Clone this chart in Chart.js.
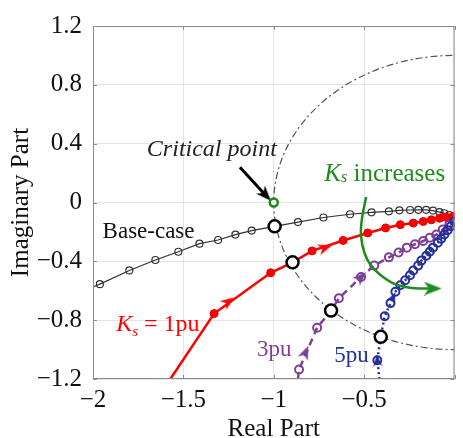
<!DOCTYPE html>
<html>
<head>
<meta charset="utf-8">
<script src="https://cdn.jsdelivr.net/npm/chart.js@4/dist/chart.umd.min.js"></script>
<style>
html, body { margin: 0; padding: 0; background: #fff; }
</style>
</head>
<body>
<canvas id="chart" width="463" height="438"></canvas>
<script>
// tick values
const xTickValues = [-2, -1.5, -1, -0.5, 0];
const yTickValues = [-1.2, -0.8, -0.4, 0, 0.4, 0.8, 1.2];

// base case locus
const baseX = [-2.0, -1.962, -1.799, -1.655, -1.528, -1.411, -1.308, -1.212, -1.122, -0.995, -0.866, -0.725, -0.578, -0.459, -0.363, -0.305, -0.246, -0.2, -0.157, -0.119, -0.083, -0.056, -0.029, 0];
const baseY = [-0.575, -0.555, -0.462, -0.391, -0.335, -0.28, -0.255, -0.218, -0.191, -0.162, -0.133, -0.102, -0.08, -0.067, -0.06, -0.053, -0.051, -0.05, -0.05, -0.055, -0.065, -0.073, -0.085, -0.1];

// Ks = 1pu
const redX = [-1.572, -1.33, -1.017, -0.896, -0.788, -0.616, -0.48, -0.381, -0.3, -0.228, -0.173, -0.128, -0.083, -0.047, -0.01, 0];
const redY = [-1.2, -0.755, -0.478, -0.407, -0.329, -0.258, -0.207, -0.173, -0.151, -0.14, -0.129, -0.118, -0.107, -0.1, -0.096, -0.095];

// Ks = 3pu
const purpleX = [-0.866, -0.86, -0.76, -0.683, -0.64, -0.517, -0.444, -0.363, -0.309, -0.264, -0.219, -0.173, -0.137, -0.1, -0.065, -0.029, 0];
const purpleY = [-1.2, -1.136, -0.851, -0.735, -0.651, -0.507, -0.429, -0.373, -0.34, -0.307, -0.284, -0.262, -0.24, -0.218, -0.184, -0.151, -0.1];

// Ks = 5pu
const blueX = [-0.415, -0.427, -0.408, -0.386, -0.354, -0.327, -0.3, -0.273, -0.246, -0.228, -0.201, -0.183, -0.156, -0.137, -0.119, -0.092, -0.074, -0.056, -0.038, -0.02, -0.002];
const blueY = [-1.2, -1.073, -0.913, -0.773, -0.684, -0.607, -0.562, -0.529, -0.495, -0.462, -0.429, -0.395, -0.362, -0.335, -0.307, -0.273, -0.247, -0.218, -0.189, -0.162, -0.129];

// crossings of the unit circle, critical point
const crossX = [-0.995, -0.896, -0.683, -0.408];
const crossY = [-0.162, -0.407, -0.735, -0.913];
const criticalX = [-1];
const criticalY = [0];

// direction arrows on the loci
const redArrowX = [-1.25, -0.715];
const redArrowY = [-0.673, -0.307];
const purpleArrowX = [-0.824, -0.517];
const purpleArrowY = [-1.018, -0.507];
const blueArrowX = [-0.427, -0.34];
const blueArrowY = [-1.073, -0.645];

// "Ks increases" arc and the critical point pointer
const trendX = [-0.489, -0.513, -0.517, -0.499, -0.462, -0.408, -0.336, -0.246, -0.164, -0.12];
const trendY = [0.038, -0.118, -0.229, -0.34, -0.429, -0.495, -0.551, -0.58, -0.585, -0.585];
const pointerX = [-1.187, -1.045];
const pointerY = [0.24, 0.05];

const SERIF = '"Liberation Serif", "Times New Roman", serif';

function pts(xs, ys) {
	return xs.map(function(x, i) { return {x: x, y: ys[i]}; });
}

function onEdge(ctx) {
	const p = ctx.raw;
	if (!p) return false;
	return p.x <= -2 || p.x >= 0 || p.y <= -1.2;
}

// arrowhead image pointing up; chart.js rotates it clockwise
function arrowHead(color, w, h) {
	const c = document.createElement('canvas');
	c.width = w;
	c.height = h;
	const g = c.getContext('2d');
	g.fillStyle = color;
	g.beginPath();
	g.moveTo(w / 2, 0);
	g.lineTo(w, h);
	g.lineTo(w / 2, h * 0.72);
	g.lineTo(0, h);
	g.closePath();
	g.fill();
	return c;
}

function arrowSet(xs, ys, color, rot, w, h) {
	return {
		type: 'scatter', data: pts(xs, ys), showLine: false,
		pointStyle: arrowHead(color, w, h), pointRotation: rot, pointRadius: 6, clip: 0
	};
}

const frame = {
	id: 'frame',
	beforeDatasetsDraw(chart) {
		const ctx = chart.ctx;
		const a = chart.chartArea;
		const xs = chart.scales.x, ys = chart.scales.y;
		// unit circle
		ctx.save();
		ctx.beginPath();
		ctx.rect(a.left, a.top, a.right - a.left, a.bottom - a.top);
		ctx.clip();
		const cx = xs.getPixelForValue(0), cy = ys.getPixelForValue(0);
		const rx = cx - xs.getPixelForValue(-1), ry = ys.getPixelForValue(-1) - cy;
		ctx.beginPath();
		ctx.ellipse(cx, cy, rx, ry, 0, 0, Math.PI * 2);
		ctx.strokeStyle = '#555';
		ctx.lineWidth = 1.2;
		ctx.setLineDash([7, 3, 2, 3]);
		ctx.stroke();
		ctx.restore();
	},
	afterDatasetsDraw(chart) {
		const ctx = chart.ctx;
		const a = chart.chartArea;
		const xs = chart.scales.x, ys = chart.scales.y;
		ctx.save();
		ctx.strokeStyle = '#8a8a8a';
		ctx.lineWidth = 1;
		ctx.strokeRect(a.left + 0.5, a.top + 0.5, a.right - a.left - 1, a.bottom - a.top - 1);
		ctx.beginPath();
		xTickValues.forEach(function(v) {
			const px = Math.round(xs.getPixelForValue(v)) + 0.5;
			ctx.moveTo(px, a.top); ctx.lineTo(px, a.top + 4);
			ctx.moveTo(px, a.bottom); ctx.lineTo(px, a.bottom - 4);
		});
		yTickValues.forEach(function(v) {
			const py = Math.round(ys.getPixelForValue(v)) + 0.5;
			ctx.moveTo(a.left, py); ctx.lineTo(a.left + 4, py);
			ctx.moveTo(a.right, py); ctx.lineTo(a.right - 4, py);
		});
		ctx.stroke();

		// labels
		ctx.textBaseline = 'alphabetic';
		ctx.textAlign = 'left';
		function at(x, y) { return [xs.getPixelForValue(x), ys.getPixelForValue(y)]; }
		function plain(text, x, y, color, font) {
			const p = at(x, y);
			ctx.font = font;
			ctx.fillStyle = color;
			ctx.fillText(text, p[0], p[1]);
		}
		function ks(x, y, color, rest, size, drop) {
			const p = at(x, y);
			ctx.fillStyle = color;
			ctx.font = 'italic ' + size + 'px ' + SERIF;
			ctx.fillText('K', p[0], p[1]);
			let w = ctx.measureText('K').width;
			ctx.font = 'italic ' + Math.round(size * 0.62) + 'px ' + SERIF;
			ctx.fillText('s', p[0] + w, p[1] + drop);
			w += ctx.measureText('s').width;
			ctx.font = size + 'px ' + SERIF;
			ctx.fillText(rest, p[0] + w, p[1]);
		}
		plain('Critical point', -1.702, 0.313, '#222', 'italic 24px ' + SERIF);
		plain('Base-case', -1.947, -0.24, '#111', '23px ' + SERIF);
		ks(-0.72, 0.149, '#1e8c1e', ' increases', 25, 1);
		ks(-1.872, -0.873, '#ff0000', ' = 1pu', 24, 5);
		plain('3pu', -1.093, -1.047, '#7f3f98', '23px ' + SERIF);
		plain('5pu', -0.665, -1.085, '#24309a', '23px ' + SERIF);
		ctx.restore();
	}
};

const datasets = [
	{
		type: 'scatter', data: pts(crossX, crossY), showLine: false,
		pointRadius: 6, pointBorderWidth: 2.5, pointBorderColor: '#000', pointBackgroundColor: '#fff'
	},
	{
		type: 'scatter', data: pts(criticalX, criticalY), showLine: false,
		pointRadius: 4, pointBorderWidth: 2.5, pointBorderColor: '#1a8a1a', pointBackgroundColor: '#fff'
	},
	arrowSet(redArrowX, redArrowY, '#ff0000', [54, 72], 11, 14),
	arrowSet(purpleArrowX, purpleArrowY, '#7f3f98', [23, 47], 11, 14),
	arrowSet(blueArrowX, blueArrowY, '#24309a', [-5, 25], 9, 12),
	arrowSet([trendX[trendX.length - 1]], [trendY[trendY.length - 1]], '#1e8c1e', [90], 14, 18),
	arrowSet([pointerX[1]], [pointerY[1]], '#000', [137], 12, 15),
	{
		data: pts(trendX, trendY), borderColor: '#1e8c1e', borderWidth: 2.5,
		tension: 0.4, pointRadius: 0, clip: 0
	},
	{
		data: pts(pointerX, pointerY), borderColor: '#000', borderWidth: 3,
		pointRadius: 0, clip: 0
	},
	{
		data: pts(blueX, blueY), borderColor: '#24309a', borderWidth: 2.5, borderDash: [2, 3],
		pointRadius: function(c) { return onEdge(c) ? 0 : 4; },
		pointBorderWidth: 2, pointBackgroundColor: 'rgba(255,255,255,0)', pointBorderColor: '#24309a', clip: 0
	},
	{
		data: pts(purpleX, purpleY), borderColor: '#7f3f98', borderWidth: 2.5, borderDash: [7, 5],
		pointRadius: function(c) { return onEdge(c) ? 0 : 4; },
		pointBorderWidth: 2, pointBackgroundColor: 'rgba(255,255,255,0)', pointBorderColor: '#7f3f98', clip: 0
	},
	{
		data: pts(redX, redY), borderColor: '#ff0000', borderWidth: 2.5,
		pointRadius: function(c) { return onEdge(c) ? 0 : 4; },
		pointBorderWidth: 1, pointBackgroundColor: '#ff0000', pointBorderColor: '#e00000', clip: 0
	},
	{
		data: pts(baseX, baseY), borderColor: '#333', borderWidth: 1.2,
		pointRadius: function(c) { return onEdge(c) ? 0 : 3.5; },
		pointBorderWidth: 1.2, pointBackgroundColor: 'rgba(255,255,255,0)', pointBorderColor: '#333', clip: 0
	}
];

new Chart(document.getElementById('chart').getContext('2d'), {
	type: 'line',
	data: {datasets: datasets},
	plugins: [frame],
	options: {
		responsive: false,
		animation: false,
		layout: {padding: {top: 19, right: 1, left: 0, bottom: 0}},
		plugins: {legend: {display: false}, tooltip: {enabled: false}},
		scales: {
			x: {
				type: 'linear', min: -2, max: 0,
				afterBuildTicks: function(s) { s.ticks = xTickValues.map(function(v) { return {value: v}; }); },
				afterFit: function(s) { s.height = 59; },
				grid: {color: '#e4e4e4', drawTicks: false},
				border: {display: false},
				ticks: {
					padding: 6, color: '#111', font: {family: SERIF, size: 25},
					maxRotation: 0, autoSkip: false,
					callback: function(v) { return v === 0 ? '' : String(v).replace('-', '\u2212'); }
				},
				title: {display: true, text: 'Real Part', color: '#111', font: {family: SERIF, size: 25, lineHeight: 0.7}, padding: 0}
			},
			y: {
				type: 'linear', min: -1.2, max: 1.2,
				afterBuildTicks: function(s) { s.ticks = yTickValues.map(function(v) { return {value: v}; }); },
				afterFit: function(s) { s.width = 93; },
				grid: {color: '#e4e4e4', drawTicks: false},
				border: {display: false},
				ticks: {
					padding: 11, color: '#111', font: {family: SERIF, size: 25}, autoSkip: false,
					callback: function(v) { return String(v).replace('-', '\u2212'); }
				},
				title: {display: true, text: 'Imaginary Part', color: '#111', font: {family: SERIF, size: 25}, padding: {top: 6, bottom: 0}}
			}
		}
	}
});
</script>
</body>
</html>
